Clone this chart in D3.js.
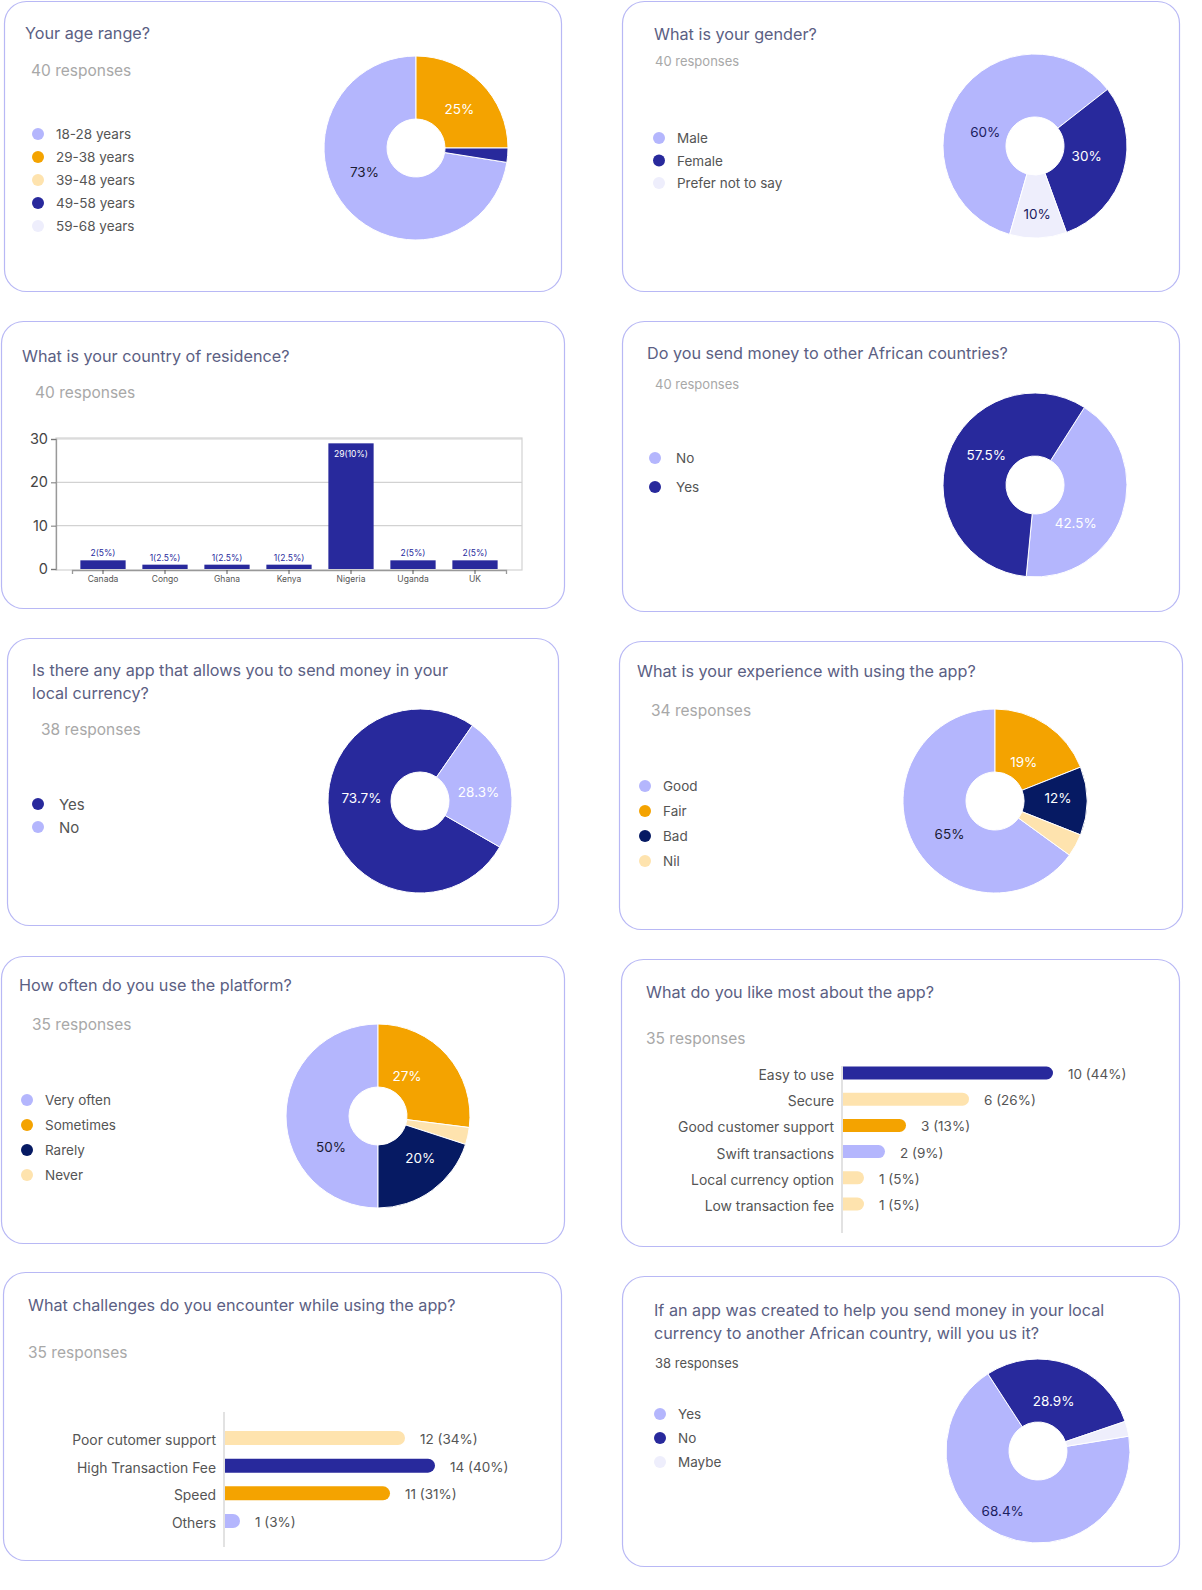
<!DOCTYPE html>
<html>
<head>
<meta charset="utf-8">
<style>
  html, body { margin: 0; padding: 0; background: #fff; overflow: hidden; }
  svg { display: block; width: 100%; height: auto; font-family: Inter, "Noto Sans", sans-serif; }
</style>
</head>
<body>
<svg id="board" viewBox="0 0 1202 1590" preserveAspectRatio="xMinYMin meet"></svg>
<script src="https://d3js.org/d3.v7.min.js"></script>
<script>
// ---- data ----
var ageLabels = ["18-28 years", "29-38 years", "39-48 years", "49-58 years", "59-68 years"];
var ageValues = [29, 10, 0, 1, 0];
var ageText = ["73%", "25%", "", "", ""];

var genderLabels = ["Male", "Female", "Prefer not to say"];
var genderValues = [24, 12, 4];
var genderText = ["60%", "30%", "10%"];

var countries = ["Canada", "Congo", "Ghana", "Kenya", "Nigeria", "Uganda", "UK"];
var countryValues = [2, 1, 1, 1, 29, 2, 2];
var countryText = ["2(5%)", "1(2.5%)", "1(2.5%)", "1(2.5%)", "29(10%)", "2(5%)", "2(5%)"];
var countryTicks = [0, 10, 20, 30];

var sendLabels = ["No", "Yes"];
var sendValues = [17, 23];
var sendText = ["42.5%", "57.5%"];

var localAppLabels = ["Yes", "No"];
var localAppValues = [29, 9];
var localAppText = ["73.7%", "28.3%"];

var experienceLabels = ["Good", "Fair", "Bad", "Nil"];
var experienceValues = [65, 19, 12, 4];
var experienceText = ["65%", "19%", "12%", ""];

var usageLabels = ["Very often", "Sometimes", "Rarely", "Never"];
var usageValues = [50, 27, 20, 3];
var usageText = ["50%", "27%", "20%", ""];
var usageSliceOrder = [0, 1, 3, 2];

var likeLabels = ["Easy to use", "Secure", "Good customer support", "Swift transactions", "Local currency option", "Low transaction fee"];
var likeValues = [10, 6, 3, 2, 1, 1];
var likeText = ["10 (44%)", "6 (26%)", "3 (13%)", "2 (9%)", "1 (5%)", "1 (5%)"];

var challengeLabels = ["Poor cutomer support", "High Transaction Fee", "Speed", "Others"];
var challengeValues = [12, 14, 11, 1];
var challengeText = ["12 (34%)", "14 (40%)", "11 (31%)", "1 (3%)"];

var useItLabels = ["Yes", "No", "Maybe"];
var useItValues = [26, 11, 1];
var useItText = ["68.4%", "28.9%", ""];

// ---- palette ----
var lightPurple = "#b4b6fd", orange = "#f4a300", peach = "#fee3ae",
    darkBlue = "#28299c", navy = "#061a63", lavender = "#eeeefc";
var titleColor = "#5b6083", greyText = "#a8a8a8", legendColor = "#555";

var svg = d3.select("#board");

// cards
var cards = [
  { x: 4, y: 1, w: 557, h: 290 },
  { x: 622, y: 1, w: 557, h: 290 },
  { x: 1, y: 321, w: 563, h: 287 },
  { x: 622, y: 321, w: 557, h: 290 },
  { x: 7, y: 638, w: 551, h: 287 },
  { x: 619, y: 641, w: 563, h: 288 },
  { x: 1, y: 956, w: 563, h: 287 },
  { x: 621, y: 959, w: 558, h: 287 },
  { x: 3, y: 1272, w: 558, h: 288 },
  { x: 622, y: 1276, w: 557, h: 290 }
];
svg.selectAll("rect.card").data(cards).enter().append("rect")
  .attr("class", "card")
  .attr("x", d => d.x + 0.5).attr("y", d => d.y + 0.5)
  .attr("width", d => d.w).attr("height", d => d.h)
  .attr("rx", 22).attr("ry", 22)
  .attr("fill", "#fff").attr("stroke", "#b8b8f5").attr("stroke-width", 1.2);

function heading(lines, x, y, resp, rx, ry, rsize, rcolor) {
  lines.forEach(function (t, i) {
    svg.append("text").attr("x", x).attr("y", y + i * 23)
      .attr("dominant-baseline", "central")
      .style("font-size", "16.2px").attr("fill", titleColor).text(t);
  });
  svg.append("text").attr("x", rx).attr("y", ry)
    .attr("dominant-baseline", "central")
    .style("font-size", rsize + "px").attr("fill", rcolor || greyText).text(resp);
}

function legend(labels, colors, cx, tx, y0, step, size) {
  labels.forEach(function (t, i) {
    svg.append("circle").attr("cx", cx).attr("cy", y0 + i * step).attr("r", 6).attr("fill", colors[i]);
    svg.append("text").attr("x", tx).attr("y", y0 + i * step)
      .attr("dominant-baseline", "central")
      .style("font-size", (size || 13.5) + "px").attr("fill", legendColor).text(t);
  });
}

// donut with slice labels placed near the ring centroid (nudge = small per-label shift)
function donut(cfg) {
  var order = cfg.order || cfg.values.map((d, i) => i);
  var items = order.map(i => ({ i: i, value: cfg.values[i] }));
  var a0 = cfg.start * Math.PI / 180;
  var pie = d3.pie().sort(null).value(d => d.value).startAngle(a0).endAngle(a0 + 2 * Math.PI);
  var arc = d3.arc().innerRadius(29).outerRadius(92);
  var labelArc = d3.arc().innerRadius(60).outerRadius(60);
  var nudge = cfg.nudge || [];
  var g = svg.append("g").attr("transform", "translate(" + cfg.cx + "," + cfg.cy + ")");
  var slices = pie(items).filter(d => d.data.value > 0);
  g.selectAll("path").data(slices).enter().append("path")
    .attr("d", arc)
    .attr("fill", d => cfg.colors[d.data.i])
    .attr("stroke", "#fff").attr("stroke-width", 1);
  g.selectAll("text").data(slices.filter(d => cfg.text[d.data.i])).enter().append("text")
    .attr("transform", function (d) {
      var c = labelArc.centroid(d), n = nudge[d.data.i] || [0, 0];
      return "translate(" + (c[0] + n[0]) + "," + (c[1] + n[1]) + ")";
    })
    .attr("text-anchor", "middle").attr("dominant-baseline", "central")
    .style("font-size", "13.5px")
    .attr("fill", d => cfg.textColors[d.data.i])
    .text(d => cfg.text[d.data.i]);
}

function hbars(labels, values, text, colors, cfg) {
  var x = d3.scaleLinear().domain([0, cfg.max]).range([0, cfg.len]);
  var y = d3.scalePoint().domain(labels).range([cfg.y0, cfg.y1]);
  var g = svg.append("g");
  g.append("line").attr("x1", cfg.x0).attr("x2", cfg.x0).attr("y1", cfg.axisTop).attr("y2", cfg.axisBottom)
    .attr("stroke", "#cfcfcf").attr("stroke-width", 1.2);
  labels.forEach(function (l, i) {
    var w = x(values[i]), h = cfg.h, yy = y(l) - h / 2, r = h / 2, x0 = cfg.x0 + 1;
    var p = "M" + x0 + "," + yy + "H" + (x0 + w - r) +
      "A" + r + "," + r + " 0 0 1 " + (x0 + w - r) + "," + (yy + h) + "H" + x0 + "Z";
    g.append("path").attr("d", p).attr("fill", colors[i]);
    g.append("text").attr("x", cfg.x0 - 8).attr("y", y(l) + 2).attr("text-anchor", "end")
      .attr("dominant-baseline", "central").style("font-size", "13.9px").attr("fill", legendColor).text(l);
    g.append("text").attr("x", x0 + w + 15).attr("y", y(l) + 1)
      .attr("dominant-baseline", "central").style("font-size", "13.5px").attr("fill", legendColor).text(text[i]);
  });
}

// ---- 1 age ----
heading(["Your age range?"], 25, 33, "40 responses", 31, 70, 15.5);
var ageColors = [lightPurple, orange, peach, darkBlue, lavender];
legend(ageLabels, ageColors, 38, 56, 134, 23);
donut({ cx: 416, cy: 148, values: ageValues, colors: ageColors, start: 99, text: ageText,
  nudge: [[-6, -15], [1, 3]],
  textColors: ["#1b1b33", "#fff", "#fff", "#fff", "#fff"] });

// ---- 2 gender ----
heading(["What is your gender?"], 654, 34, "40 responses", 655, 61, 13);
var genderColors = [lightPurple, darkBlue, lavender];
legend(genderLabels, genderColors, 659, 677, 138, 22.5);
donut({ cx: 1035, cy: 146, values: genderValues, colors: genderColors, start: 196, text: genderText,
  nudge: [[0, 20], [-6, -7], [0, 8]],
  textColors: ["#1b2060", "#fff", "#1b2060"] });

// ---- 3 country bar chart ----
heading(["What is your country of residence?"], 22, 356, "40 responses", 35, 392, 15.5);
(function () {
  var left = 56, right = 522, top = 438, bottom = 570;
  var x = d3.scaleBand().domain(countries).range([72, 506]).paddingInner(0.27).paddingOuter(0.135);
  var y = d3.scaleLinear().domain([0, 30]).range([bottom - 1, top + 1]);
  var g = svg.append("g");
  g.append("rect").attr("x", left).attr("y", top).attr("width", right - left).attr("height", bottom - top)
    .attr("fill", "none").attr("stroke", "#d2d2d2").attr("stroke-width", 1.2);
  g.selectAll("line.grid").data(countryTicks.slice(1)).enter().append("line")
    .attr("x1", left).attr("x2", right).attr("y1", d => y(d)).attr("y2", d => y(d))
    .attr("stroke", "#d2d2d2").attr("stroke-width", 1.2);
  var ya = g.append("g").attr("transform", "translate(" + left + ",0)")
    .call(d3.axisLeft(y).tickValues(countryTicks).tickSize(5).tickPadding(3));
  ya.select(".domain").attr("stroke", "#999").attr("stroke-width", 1.3);
  ya.selectAll(".tick line").attr("stroke", "#777");
  ya.selectAll(".tick text").style("font-size", "14.5px").style("font-family", "Inter").attr("fill", "#444");
  var xa = g.append("g").attr("transform", "translate(0," + bottom + ")")
    .call(d3.axisBottom(x).tickSize(4).tickPadding(2));
  xa.select(".domain").attr("stroke", "#999").attr("stroke-width", 1.3);
  xa.selectAll(".tick line").attr("stroke", "#555");
  xa.selectAll(".tick text").style("font-size", "8.5px").style("font-family", "Inter").attr("fill", "#555");
  g.selectAll("rect.bar").data(countries).enter().append("rect")
    .attr("x", d => x(d)).attr("width", x.bandwidth())
    .attr("y", (d, i) => y(countryValues[i])).attr("height", (d, i) => y(0) - y(countryValues[i]))
    .attr("fill", darkBlue);
  g.selectAll("text.val").data(countries).enter().append("text")
    .attr("x", d => x(d) + x.bandwidth() / 2)
    .attr("y", (d, i) => countryValues[i] > 10 ? y(countryValues[i]) + 11 : y(countryValues[i]) - 7)
    .attr("text-anchor", "middle").attr("dominant-baseline", "central")
    .style("font-size", "8.5px")
    .attr("fill", (d, i) => countryValues[i] > 10 ? "#fff" : darkBlue)
    .text((d, i) => countryText[i]);
})();

// ---- 4 send money ----
heading(["Do you send money to other African countries?"], 647, 353, "40 responses", 655, 384, 13);
var sendColors = [lightPurple, darkBlue];
legend(sendLabels, sendColors, 655, 676, 458, 29);
donut({ cx: 1035, cy: 485, values: sendValues, colors: sendColors, start: 32.5, text: sendText,
  nudge: [[-16, 18], [8, -10]],
  textColors: ["#fff", "#fff"] });

// ---- 5 local currency app ----
heading(["Is there any app that allows you to send money in your", "local currency?"], 32, 670, "38 responses", 41, 729, 15.5);
var localAppColors = [darkBlue, lightPurple];
legend(localAppLabels, localAppColors, 38, 59, 804, 23, 15);
donut({ cx: 420, cy: 801, values: localAppValues, colors: localAppColors, start: 120, text: localAppText,
  nudge: [[0, -16], [0, 4]],
  textColors: ["#fff", "#fff"] });

// ---- 6 experience ----
heading(["What is your experience with using the app?"], 637, 671, "34 responses", 651, 710, 15.5);
var experienceColors = [lightPurple, orange, navy, peach];
legend(experienceLabels, experienceColors, 645, 663, 786, 25);
donut({ cx: 995, cy: 801, values: experienceValues, colors: experienceColors, start: 126, text: experienceText,
  nudge: [[8, 6], [-5, 11], [3, -3]],
  textColors: ["#1b1b33", "#fff", "#fff", "#fff"] });

// ---- 7 usage ----
heading(["How often do you use the platform?"], 19, 985, "35 responses", 32, 1024, 15.5);
var usageColors = [lightPurple, orange, navy, peach];
legend(usageLabels, usageColors, 27, 45, 1100, 25);
donut({ cx: 378, cy: 1116, values: usageValues, colors: usageColors, start: 180, order: usageSliceOrder,
  nudge: [[13, 31], [-16, 0], [7, -7]],
  text: usageText, textColors: ["#1b1b33", "#fff", "#fff", "#fff"] });

// ---- 8 like most ----
heading(["What do you like most about the app?"], 646, 992, "35 responses", 646, 1038, 15.5);
hbars(likeLabels, likeValues, likeText, [darkBlue, peach, orange, lightPurple, peach, peach],
  { x0: 842, max: 10, len: 210, y0: 1073, y1: 1204, h: 13, axisTop: 1066, axisBottom: 1233 });

// ---- 9 challenges ----
heading(["What challenges do you encounter while using the app?"], 28, 1305, "35 responses", 28, 1352, 15.5);
hbars(challengeLabels, challengeValues, challengeText, [peach, darkBlue, orange, lightPurple],
  { x0: 224, max: 14, len: 210, y0: 1438, y1: 1521, h: 14, axisTop: 1412, axisBottom: 1547 });

// ---- 10 use it ----
heading(["If an app was created to help you send money in your local", "currency to another African country, will you us it?"],
  654, 1310, "38 responses", 655, 1363, 13, "#555");
var useItColors = [lightPurple, darkBlue, lavender];
legend(useItLabels, useItColors, 660, 678, 1414, 24);
donut({ cx: 1038, cy: 1451, values: useItValues, colors: useItColors, start: 80.7, text: useItText,
  nudge: [[-11, 5], [-4, 7]],
  textColors: ["#1b2060", "#fff", "#1b2060"] });
</script>
</body>
</html>
